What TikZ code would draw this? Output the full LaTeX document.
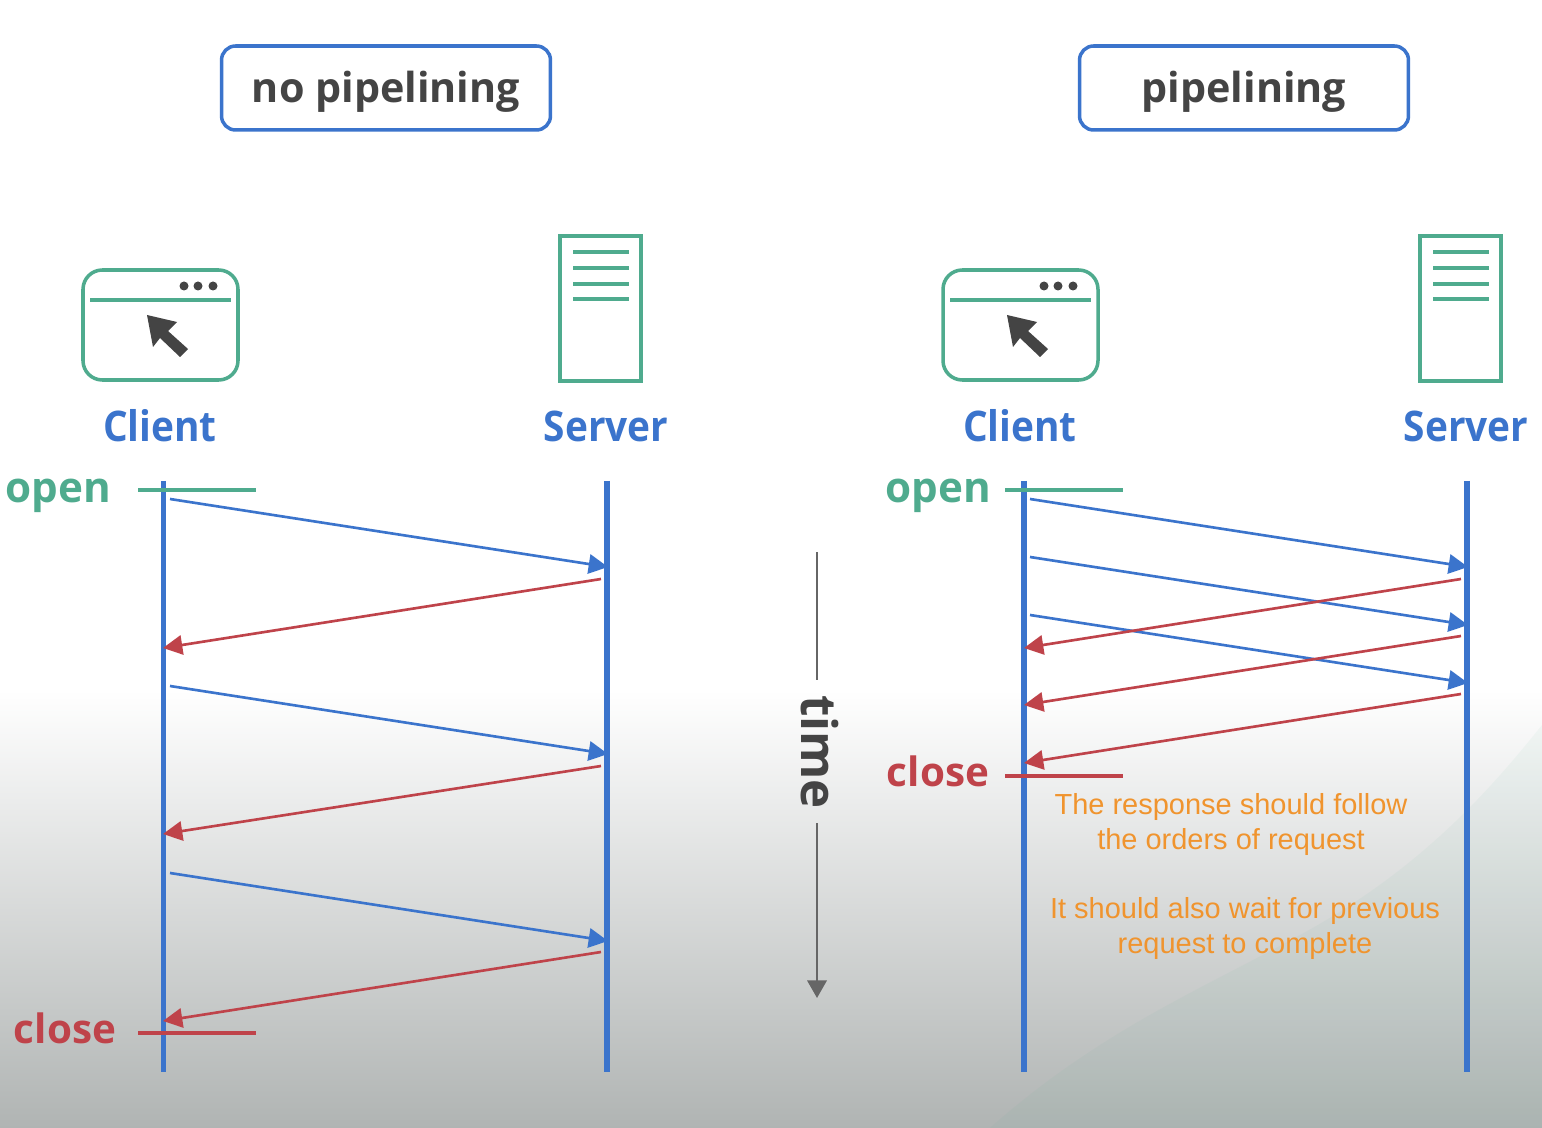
\documentclass[tikz,border=0pt]{standalone}
\usepackage{fontspec}
\setmainfont{Open Sans}
\newfontfamily\notefont{Liberation Sans}
\newfontfamily\rolefont[FakeStretch=0.92]{Open Sans}
\usetikzlibrary{arrows.meta}
\definecolor{linkblue}{HTML}{3B74CC}
\definecolor{replyred}{HTML}{BF434A}
\definecolor{mint}{HTML}{4FAB8E}
\definecolor{note}{HTML}{F0942E}
\definecolor{ink}{HTML}{444444}
\definecolor{axis}{HTML}{666666}
\definecolor{fade}{HTML}{B0B4B3}
\tikzset{
  modebx/.style={draw=linkblue,line width=2pt,rounded corners=8pt,minimum width=6.58cm,minimum height=1.68cm,text height=20pt,text depth=3.4pt,text=ink,font=\fontsize{23.5}{27}\selectfont\bfseries},
  role/.style={text=linkblue,font=\rolefont\fontsize{24}{28}\selectfont\bfseries},
  tag/.style={font=\fontsize{#1}{28}\selectfont\bfseries},
  life/.style={linkblue,line width=3pt},
  tick/.style={#1,line width=2pt},
  req/.style={-{Triangle[length=11pt,width=11pt]},linkblue,line width=1.5pt},
  resp/.style={-{Triangle[length=11pt,width=11pt]},replyred,line width=1.5pt},
  notetx/.style={text=note,font=\notefont\fontsize{16.5}{20}\selectfont},
  clienticon/.pic={
    \draw[mint,line width=2pt,rounded corners=11pt] (0,0) rectangle (155,110);
    \draw[mint,line width=2pt] (7,30) -- (148,30);
    \fill[ink] (101,16) circle (4.5) (115,16) circle (4.5) (130,16) circle (4.5);
    \fill[ink] (64,45) -- (94,52) -- (85,61) -- (105,79) -- (97,87) -- (77,68) -- (70,77) -- cycle;
  },
  servericon/.pic={
    \draw[mint,line width=2pt] (0,0) rectangle (81,145);
    \draw[mint,line width=1.8pt] (13,16) -- (69,16) (13,32) -- (69,32) (13,48) -- (69,48) (13,63) -- (69,63);
  },
}
\begin{document}
\begin{tikzpicture}[x=0.02cm,y=-0.02cm]
\useasboundingbox (0,0) rectangle (1542,1128);
\fill[white] (0,0) rectangle (1542,1128);
\shade[top color=white,bottom color=fade] (0,690) rectangle (1542,1128);
\fill[mint,opacity=0.05] (990,1128) .. controls (1100,1030) and (1210,985) .. (1300,935) .. controls (1420,870) and (1490,790) .. (1542,725) -- (1542,1128) -- cycle;

\node[modebx] (nopipe) at (386,88) {no pipelining};
\node[modebx] (pipe) at (1244,88) {pipelining};

% left side
\pic at (83,270) {clienticon};
\pic at (560,236) {servericon};
\node[role] (cl1) at (160,426) {Client};
\node[role] (sv1) at (606,426) {Server};
\node[tag=24,text=mint] (open1) at (58,496) {open};
\node[tag=23,text=replyred] (close1) at (65,1028) {close};
\coordinate (cltop1) at (163.5,481); \coordinate (clbot1) at (163.5,1072);
\coordinate (svtop1) at (607,481); \coordinate (svbot1) at (607,1072);
\draw[life] (cltop1) -- (clbot1);
\draw[life] (svtop1) -- (svbot1);
\coordinate (oa1) at (138,490); \coordinate (ob1) at (256,490);
\coordinate (ca1) at (138,1033); \coordinate (cb1) at (256,1033);
\draw[tick=mint] (oa1) -- (ob1);
\draw[tick=replyred] (ca1) -- (cb1);
\coordinate (a1) at (170,499); \coordinate (b1) at (608,567);
\coordinate (a2) at (601,579); \coordinate (b2) at (163,648);
\coordinate (a3) at (170,686); \coordinate (b3) at (608,754);
\coordinate (a4) at (601,766); \coordinate (b4) at (163,834);
\coordinate (a5) at (170,873); \coordinate (b5) at (608,941);
\coordinate (a6) at (601,952); \coordinate (b6) at (163,1021);
\draw[req] (a1) -- (b1); \draw[resp] (a2) -- (b2);
\draw[req] (a3) -- (b3); \draw[resp] (a4) -- (b4);
\draw[req] (a5) -- (b5); \draw[resp] (a6) -- (b6);

% time axis
\node[text=ink,rotate=-90,inner sep=8pt,font=\fontsize{28}{32}\selectfont\bfseries] (time) at (820,752) {time};
\coordinate (ttop) at (817,552); \coordinate (tmid1) at (817,680);
\coordinate (tmid2) at (817,823); \coordinate (tend) at (817,998);
\draw[axis,line width=1.4pt] (ttop) -- (tmid1);
\draw[axis,line width=1.4pt,-{Triangle[length=10pt,width=11pt]}] (tmid2) -- (tend);

% right side
\pic at (943,270) {clienticon};
\pic at (1420,236) {servericon};
\node[role] (cl2) at (1020,426) {Client};
\node[role] (sv2) at (1466,426) {Server};
\node[tag=24,text=mint] (open2) at (938,496) {open};
\node[tag=23,text=replyred] (close2) at (938,771) {close};
\coordinate (cltop2) at (1024,481); \coordinate (clbot2) at (1024,1072);
\coordinate (svtop2) at (1467,481); \coordinate (svbot2) at (1467,1072);
\draw[life] (cltop2) -- (clbot2);
\draw[life] (svtop2) -- (svbot2);
\coordinate (oa2) at (1005,490); \coordinate (ob2) at (1123,490);
\coordinate (ca2) at (1005,776); \coordinate (cb2) at (1123,776);
\draw[tick=mint] (oa2) -- (ob2);
\draw[tick=replyred] (ca2) -- (cb2);
\coordinate (p1) at (1030,499); \coordinate (q1) at (1468,567);
\coordinate (p2) at (1030,557); \coordinate (q2) at (1468,625);
\coordinate (p3) at (1030,615); \coordinate (q3) at (1468,683);
\coordinate (r1) at (1461,579); \coordinate (s1) at (1024,648);
\coordinate (r2) at (1461,636); \coordinate (s2) at (1024,705);
\coordinate (r3) at (1461,694); \coordinate (s3) at (1024,763);
\draw[req] (p1) -- (q1); \draw[req] (p2) -- (q2); \draw[req] (p3) -- (q3);
\draw[resp] (r1) -- (s1); \draw[resp] (r2) -- (s2); \draw[resp] (r3) -- (s3);

\node[notetx] (n1) at (1231,807) {The response should follow};
\node[notetx] (n2) at (1231,842) {the orders of request};
\node[notetx] (n3) at (1245,911) {It should also wait for previous};
\node[notetx] (n4) at (1245,946) {request to complete};
\end{tikzpicture}
\end{document}
